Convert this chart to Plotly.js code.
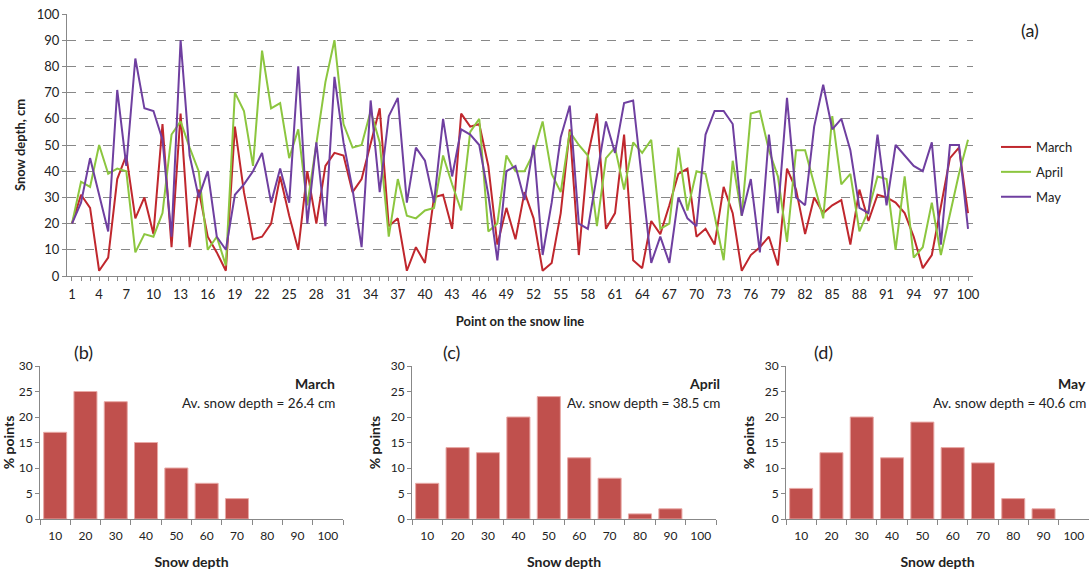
<!DOCTYPE html>
<html><head><meta charset="utf-8">
<script src="https://cdn.plot.ly/plotly-3.0.1.min.js"></script>
<style>html,body{margin:0;padding:0;background:#fff;} #chart{width:1089px;height:570px;}</style>
</head><body><div id="chart"></div>
<script>
// Point numbers along the snow line
const pointIds = Array.from({length: 100}, (_, i) => i + 1);

const march = [20,31,26,2,7,37,46,22,30,16, 58,11,62,11,33,15,9,2,57,32,
  14,15,20,38,23,10,40,20,42,47, 46,32,37,51,64,19,22,2,11,5,
  30,31,18,62,57,58,42,12,26,14, 32,22,2,5,24,56,8,46,62,18,
  24,54,6,3,21,16,27,39,41,15, 18,12,34,24,2,8,11,15,4,41,
  33,16,30,24,27,29,12,33,21,31, 30,28,24,15,3,8,27,45,49,24];

const april = [20,36,34,50,39,41,40,9,16,15, 24,54,59,49,40,10,15,4,70,63,
  42,86,64,66,45,56,27,51,74,90, 58,49,50,63,51,15,37,23,22,25,
  26,46,35,25,55,60,17,20,46,40, 40,47,59,39,32,55,50,46,19,45,
  49,33,51,47,52,18,20,49,25,40, 39,23,6,44,23,62,63,48,38,13,
  48,48,35,22,61,35,39,17,25,38, 37,10,38,7,11,28,8,24,39,52];

const may = [20,28,45,31,17,71,42,83,64,63, 52,15,90,46,30,40,15,10,31,35,
  40,47,28,41,28,80,20,51,19,76, 51,33,11,67,32,61,68,28,49,44,
  28,60,38,56,54,50,31,6,40,42, 29,50,8,28,53,65,20,18,39,59,
  47,66,67,36,5,15,5,30,22,19, 54,63,63,58,23,37,9,54,24,68,
  30,27,57,73,56,60,48,26,24,54, 27,50,46,42,40,51,12,50,50,18];

// Histogram bins (snow depth classes) and % of points
const depthBins = ["10","20","30","40","50","60","70","80","90","100"];
const histMarch = [17,25,23,15,10,7,4,0,0,0];
const histApril = [7,14,13,20,24,12,8,1,2,0];
const histMay   = [6,13,20,12,19,14,11,4,2,0];

const avgLabels = ["Av. snow depth = 26.4 cm","Av. snow depth = 38.5 cm","Av. snow depth = 40.6 cm"];
const monthNames = ["March","April","May"];

const FONT = "Lato, 'Open Sans', 'Liberation Sans', sans-serif";
const W = 1089, H = 570;
const px = x => x / W;
const py = y => 1 - y / H;

const lineColors = ['#C0272D', '#8CC63F', '#6F3FA0'];

const traces = [
  {x: pointIds, y: march, name: monthNames[0], legendgroup: 'g1', type: 'scatter', mode: 'lines', line: {color: lineColors[0], width: 2}, xaxis: 'x', yaxis: 'y'},
  {x: pointIds, y: april, name: monthNames[1], legendgroup: 'g2', type: 'scatter', mode: 'lines', line: {color: lineColors[1], width: 2}, xaxis: 'x', yaxis: 'y'},
  {x: pointIds, y: may,   name: monthNames[2], legendgroup: 'g3', type: 'scatter', mode: 'lines', line: {color: lineColors[2], width: 2}, xaxis: 'x', yaxis: 'y'}
];
const hists = [histMarch, histApril, histMay];
hists.forEach((h, i) => {
  traces.push({x: depthBins, y: h, type: 'bar', showlegend: false,
    marker: {color: '#C0504D', line: {color: '#E8A9A6', width: h.map(v => v > 0 ? 1 : 0)}},
    xaxis: 'x' + (i + 2), yaxis: 'y' + (i + 2)});
});

const botDom = [py(519), py(366)];
const botX = [[px(40), px(343)], [px(412), px(716)], [px(786), 1.0]];

const layout = {
  width: W, height: H,
  margin: {l: 0, r: 0, t: 0, b: 0},
  paper_bgcolor: '#fff', plot_bgcolor: '#fff',
  font: {family: FONT, size: 12, color: '#222'},
  showlegend: true,
  legend: {x: px(996), y: py(132), xanchor: 'left', yanchor: 'top', font: {family: FONT, size: 13, color: '#222'}, bgcolor: 'rgba(0,0,0,0)', tracegroupgap: 5, itemwidth: 30},
  bargap: 0.24,
  xaxis: {
    domain: [px(67), px(973)], range: [0.45, 100.55], anchor: 'y',
    tickmode: 'linear', tick0: 1, dtick: 3,
    ticks: 'outside', ticklen: 4, tickcolor: '#888',
    minor: {ticks: 'outside', ticklen: 4, tickcolor: '#888', tick0: 1, dtick: 1, showgrid: false},
    showline: true, linecolor: '#888', linewidth: 1, showgrid: false, zeroline: false,
    ticklabelstandoff: 2,
    tickfont: {family: FONT, size: 13, color: '#222'},
    title: {text: '<b>Point on the snow line</b>', font: {family: FONT, size: 13, color: '#222'}, standoff: 16}
  },
  yaxis: {
    domain: [py(276), py(14)], range: [0, 100], anchor: 'x',
    tickmode: 'linear', tick0: 0, dtick: 10,
    ticks: 'outside', ticklen: 4, tickcolor: '#888',
    showline: true, linecolor: '#888', linewidth: 1,
    showgrid: true, gridcolor: '#888', griddash: 'dash', gridwidth: 1, zeroline: false,
    tickfont: {family: FONT, size: 13, color: '#222'},
    title: {text: '<b>Snow depth, cm</b>', font: {family: FONT, size: 13, color: '#222'}, standoff: 8}
  },
  annotations: [
    {xref: 'paper', yref: 'paper', x: px(1030), y: py(30), xanchor: 'center', yanchor: 'middle', text: '(a)', showarrow: false, font: {family: FONT, size: 18, color: '#222'}}
  ]
};

const panelLetters = ['(b)', '(c)', '(d)'];
const letterX = [83, 451, 823];
const rightEdge = [337, 722, 1088];
for (let i = 0; i < 3; i++) {
  const n = i + 2;
  layout['xaxis' + n] = {
    domain: botX[i], anchor: 'y' + n, type: 'category',
    ticks: 'outside', ticklen: 5, tickcolor: '#888', tickson: 'boundaries',
    showline: true, linecolor: '#888', linewidth: 1, showgrid: false, zeroline: false,
    ticklabelstandoff: 6,
    tickfont: {family: FONT, size: 12, color: '#222'},
    title: {text: '<b>Snow depth</b>', font: {family: FONT, size: 14, color: '#222'}, standoff: 16}
  };
  layout['yaxis' + n] = {
    domain: botDom, anchor: 'x' + n, range: [0, 30],
    tickmode: 'linear', tick0: 0, dtick: 5,
    ticks: 'outside', ticklen: 4, tickcolor: '#888',
    showline: true, linecolor: '#888', linewidth: 1, showgrid: false, zeroline: false,
    tickfont: {family: FONT, size: 12, color: '#222'},
    title: {text: '<b>% points</b>', font: {family: FONT, size: 14, color: '#222'}, standoff: 6}
  };
  layout.annotations.push({xref: 'paper', yref: 'paper', x: px(letterX[i]), y: py(352), xanchor: 'center', yanchor: 'middle', text: panelLetters[i], showarrow: false, font: {family: FONT, size: 18, color: '#222'}});
  layout.annotations.push({xref: 'paper', yref: 'paper', x: px(rightEdge[i]), y: py(383), xanchor: 'right', yanchor: 'middle', text: '<b>' + monthNames[i] + '</b>', showarrow: false, font: {family: FONT, size: 14, color: '#222'}});
  layout.annotations.push({xref: 'paper', yref: 'paper', x: px(rightEdge[i]), y: py(403), xanchor: 'right', yanchor: 'middle', text: avgLabels[i], showarrow: false, font: {family: FONT, size: 13.5, color: '#222'}});
}

Plotly.newPlot('chart', traces, layout, {displayModeBar: false, staticPlot: true});
</script>
</body></html>
